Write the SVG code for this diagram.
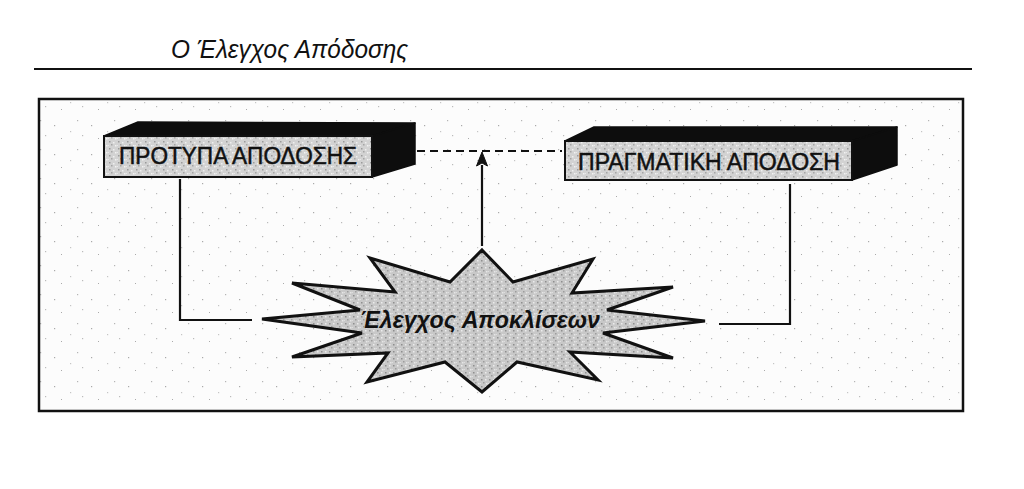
<svg xmlns="http://www.w3.org/2000/svg" width="1024" height="489" viewBox="0 0 1024 489">
<style>
.frame{fill:url(#speck);stroke:#111;stroke-width:2.5}
.face{fill:url(#grain);stroke:#111;stroke-width:2}
.dark{fill:#0d0d0d;stroke:#0d0d0d;stroke-width:1.5;stroke-linejoin:round}
.lbl{font-family:"Liberation Sans",Arial,sans-serif;font-size:23px;fill:#111;stroke:#111;stroke-width:0.5}
.conn{fill:none;stroke:#111;stroke-width:2.2}
.dash{fill:none;stroke:#111;stroke-width:2;stroke-dasharray:8 5}
</style>
<defs>
<pattern id="speck" width="37" height="29" patternUnits="userSpaceOnUse">
<rect width="37" height="29" fill="#fcfcfc"/>
<rect x="3" y="4" width="1.2" height="1.2" fill="#b5b5b5"/>
<rect x="17" y="9" width="1.2" height="1.2" fill="#aaa"/>
<rect x="8" y="19" width="1.2" height="1.2" fill="#bbb"/>
<rect x="24" y="22" width="1" height="1" fill="#aaa"/>
<rect x="33" y="15" width="1.2" height="1.2" fill="#c5c5c5"/>
</pattern>
<pattern id="grain" width="9" height="7" patternUnits="userSpaceOnUse">
<rect width="9" height="7" fill="#d2d2d2"/>
<rect x="1" y="1" width="1.5" height="1.5" fill="#9a9a9a"/>
<rect x="5" y="2" width="1.5" height="1.5" fill="#efefef"/>
<rect x="3" y="4" width="1.5" height="1.5" fill="#a5a5a5"/>
<rect x="7" y="5" width="1.5" height="1.5" fill="#f2f2f2"/>
<rect x="0" y="5" width="1" height="1" fill="#e8e8e8"/>
</pattern>
<pattern id="starg" width="8" height="7" patternUnits="userSpaceOnUse">
<rect width="8" height="7" fill="#c8c8c8"/>
<rect x="1" y="1" width="1.5" height="1.5" fill="#8e8e8e"/>
<rect x="5" y="1" width="1.5" height="1.5" fill="#ececec"/>
<rect x="3" y="4" width="1.5" height="1.5" fill="#9c9c9c"/>
<rect x="6" y="5" width="1.5" height="1.5" fill="#e6e6e6"/>
<rect x="0" y="5" width="1" height="1" fill="#dedede"/>
</pattern>
</defs>
<rect width="1024" height="489" fill="#fff"/>
<g id="header">
<text x="171" y="58" font-family="'Liberation Sans',Arial,sans-serif" font-size="25" font-style="italic" fill="#111" textLength="237" lengthAdjust="spacingAndGlyphs">Ο Έλεγχος Απόδοσης</text>
<line x1="34" y1="69" x2="972" y2="69" stroke="#111" stroke-width="2"/>
</g>
<rect id="frame" class="frame" x="39" y="99" width="924" height="312"/>
<g id="connectors">
<polyline class="conn" points="180,179 180,320 252,320"/>
<polyline class="conn" points="719,324 790,324 790,184"/>
<line class="dash" x1="417" y1="151" x2="562" y2="151"/>
<line class="conn" x1="482" y1="246" x2="482" y2="165" stroke-width="2.8"/>
<path d="M482,152 L487.5,166 L482,163 L476.5,166 Z" fill="#111" stroke="#111" stroke-width="1"/>
</g>
<g id="node-standards">
<polygon class="dark" points="104,136 138,122 415,123 372,136"/>
<polygon class="dark" points="372,136 415,123 415,164 372,177"/>
<rect class="face" x="104" y="136" width="268" height="41"/>
<text class="lbl" x="119" y="164" textLength="238" lengthAdjust="spacingAndGlyphs">ΠΡΟΤΥΠΑ ΑΠΟΔΟΣΗΣ</text>
</g>
<g id="node-actual">
<polygon class="dark" points="565,141 594,127 897,127 852,141"/>
<polygon class="dark" points="852,141 897,127 897,165 852,180"/>
<rect class="face" x="565" y="141" width="287" height="39"/>
<text class="lbl" x="578" y="170" font-size="24" textLength="262" lengthAdjust="spacingAndGlyphs">ΠΡΑΓΜΑΤΙΚΗ ΑΠΟΔΟΣΗ</text>
</g>
<g id="node-variance">
<polygon fill="url(#starg)" stroke="#111" stroke-width="3" stroke-linejoin="miter" points="482,250 513,282 593,259 572,293 673,287 607,310 705,321 603,333 673,358 570,352 598,380 517,362 482,392 445,362 367,382 388,353 292,357 362,333 262,319 360,310 292,283 395,292 370,258 450,282"/>
<text x="360" y="328" font-family="'Liberation Sans',Arial,sans-serif" font-size="24" font-weight="bold" font-style="italic" fill="#111" textLength="240" lengthAdjust="spacingAndGlyphs">Έλεγχος Αποκλίσεων</text>
</g>
</svg>
